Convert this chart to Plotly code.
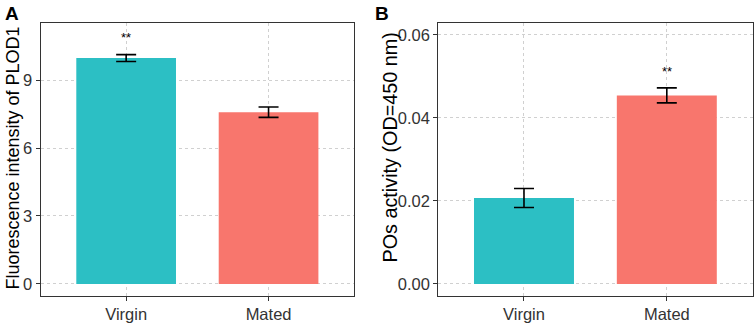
import plotly.graph_objects as go

categories = ["Virgin", "Mated"]
bar_colors = ["#2CBFC4", "#F8766D"]

# Panel A: Fluorescence intensity of PLOD1
a_values = [9.97, 7.58]
a_errors = [0.15, 0.23]
a_signif = ["**", ""]
a_ticks = [0, 3, 6, 9]
a_title = "Fluorescence intensity of PLOD1"

# Panel B: POs activity (OD=450 nm)
b_values = [0.0207, 0.0454]
b_errors = [0.0023, 0.0018]
b_signif = ["", "**"]
b_ticks = [0.00, 0.02, 0.04, 0.06]
b_ticklabels = ["0.00", "0.02", "0.04", "0.06"]
b_title = "POs activity (OD=450 nm)"

FONT = "Liberation Sans, Arial, Helvetica, sans-serif"
W, H = 754, 324

fig = go.Figure()
fig.add_trace(go.Bar(
    x=categories, y=a_values, width=0.7,
    marker=dict(color=bar_colors, line=dict(width=0)),
    error_y=dict(type="data", array=a_errors, color="black", thickness=1.6, width=10),
    xaxis="x", yaxis="y", showlegend=False,
))
fig.add_trace(go.Bar(
    x=categories, y=b_values, width=0.7,
    marker=dict(color=bar_colors, line=dict(width=0)),
    error_y=dict(type="data", array=b_errors, color="black", thickness=1.6, width=10),
    xaxis="x2", yaxis="y2", showlegend=False,
))

annotations = []
for c, s in zip(categories, a_signif):
    if s:
        annotations.append(dict(x=c, y=10.88, xref="x", yref="y", text=s, showarrow=False,
                                font=dict(size=13, color="black", family=FONT)))
for c, s in zip(categories, b_signif):
    if s:
        annotations.append(dict(x=c, y=0.0511, xref="x2", yref="y2", text=s, showarrow=False,
                                font=dict(size=13, color="black", family=FONT)))
# panel letters
annotations.append(dict(x=3/W, y=1.0, xref="paper", yref="paper", text="<b>A</b>", showarrow=False,
                        xanchor="left", yanchor="top", yshift=-1,
                        font=dict(size=19, color="black", family=FONT)))
annotations.append(dict(x=373/W, y=1.0, xref="paper", yref="paper", text="<b>B</b>", showarrow=False,
                        xanchor="left", yanchor="top", yshift=-1,
                        font=dict(size=19, color="black", family=FONT)))
# axis titles
annotations.append(dict(x=12.5/W, y=(H-158)/H, xref="paper", yref="paper", text=a_title,
                        textangle=-90, showarrow=False, xanchor="center", yanchor="middle",
                        font=dict(size=18, color="black", family=FONT)))
annotations.append(dict(x=389/W, y=(H-147.5)/H, xref="paper", yref="paper", text=b_title,
                        textangle=-90, showarrow=False, xanchor="center", yanchor="middle",
                        font=dict(size=19.8, color="black", family=FONT)))

axis_common = dict(
    showline=True, mirror=True, linecolor="#333333", linewidth=1.3,
    ticks="outside", ticklen=4, tickwidth=1, tickcolor="#333333",
    showgrid=True, gridcolor="#d0d0d0", griddash="3px,3px", gridwidth=0.8,
    zeroline=False, automargin=False,
    tickfont=dict(size=16.5, color="#333333", family=FONT),
)

fig.update_layout(
    width=W, height=H,
    margin=dict(l=0, r=0, t=0, b=0),
    plot_bgcolor="white", paper_bgcolor="white",
    font=dict(family=FONT),
    xaxis=dict(domain=[40.7/W, 354/W], range=[-0.6, 1.6], anchor="y", **axis_common),
    yaxis=dict(domain=[(H-295.5)/H, (H-22.7)/H], range=[-0.51, 11.53], anchor="x",
               tickvals=a_ticks, **axis_common),
    xaxis2=dict(domain=[438.3/W, 752.5/W], range=[-0.6, 1.6], anchor="y2", **axis_common),
    yaxis2=dict(domain=[(H-295.5)/H, (H-22.7)/H], range=[-0.00277, 0.0629], anchor="x2",
                tickvals=b_ticks, ticktext=b_ticklabels, **axis_common),
    annotations=annotations,
)

fig.write_html("out.html", config={"displayModeBar": False},
               post_script="document.body.style.margin='0';document.body.style.overflow='hidden';")
